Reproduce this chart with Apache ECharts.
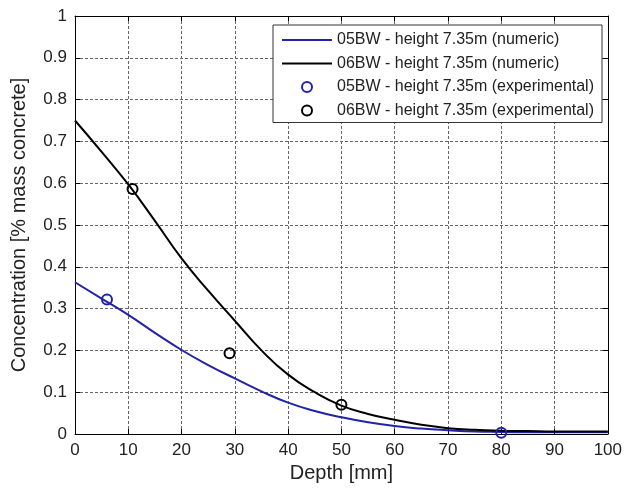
<!DOCTYPE html>
<html>
<head>
<meta charset="utf-8">
<script src="https://cdn.jsdelivr.net/npm/echarts@6/dist/echarts.min.js"></script>
<style>
html,body{margin:0;padding:0;background:#fff;}
#chart{width:625px;height:495px;}
</style>
</head>
<body>
<div id="chart"></div>
<script>
// Depth grid for numeric curves [mm]
var depth = [0,5,10,15,20,25,30,35,40,45,50,55,60,65,70,75,80,85,90,95,100];
// 05BW numeric (blue)
var bw05Numeric = [0.363,0.324,0.285,0.242,0.201,0.165,0.133,0.102,0.075,0.055,0.040,0.028,0.019,0.013,0.009,0.006,0.005,0.004,0.004,0.004,0.004];
// 06BW numeric (black)
var bw06Numeric = [0.750,0.675,0.597,0.510,0.420,0.343,0.271,0.200,0.142,0.100,0.068,0.048,0.034,0.022,0.014,0.010,0.008,0.007,0.006,0.006,0.006];
// Experimental points
var bw05ExpDepth = [6, 80];
var bw05ExpValue = [0.322, 0.003];
var bw06ExpDepth = [10.8, 29, 50];
var bw06ExpValue = [0.586, 0.193, 0.070];
// Axis ticks
var xTicks = [0,10,20,30,40,50,60,70,80,90,100];
var yTicks = [0,0.1,0.2,0.3,0.4,0.5,0.6,0.7,0.8,0.9,1];

var names = [
  '05BW - height 7.35m (numeric)',
  '06BW - height 7.35m (numeric)',
  '05BW - height 7.35m (experimental)',
  '06BW - height 7.35m (experimental)'
];
var BLUE = '#2222aa';
var BLACK = '#000000';
var FONT = 'Liberation Sans, Arial, sans-serif';

function pairs(xs, ys){ return xs.map(function(x,i){ return [x, ys[i]]; }); }

var chart = echarts.init(document.getElementById('chart'), null, {renderer:'canvas'});
var gridLine = {show:true, lineStyle:{color:'#666', type:[3,2], width:1}};
var option = {
  animation:false,
  backgroundColor:'#fff',
  grid:{left:75, right:17, top:16, bottom:61, containLabel:false},
  xAxis:[{
    type:'value', min:xTicks[0], max:xTicks[xTicks.length-1], interval:10,
    name:'Depth [mm]', nameLocation:'middle', nameGap:27,
    nameTextStyle:{fontFamily:FONT, fontSize:20, color:'#222'},
    axisLine:{show:true, lineStyle:{color:'#000', width:1}},
    axisTick:{show:true, inside:true, length:5, lineStyle:{color:'#000'}},
    axisLabel:{fontFamily:FONT, fontSize:17, color:'#222', margin:8},
    splitLine:gridLine
  },{
    type:'value', position:'top', min:0, max:100, interval:10,
    axisLine:{show:true, onZero:false, lineStyle:{color:'#000', width:1}},
    axisTick:{show:true, inside:true, length:5, lineStyle:{color:'#000'}},
    axisLabel:{show:false}, splitLine:{show:false}
  }],
  yAxis:[{
    type:'value', min:yTicks[0], max:yTicks[yTicks.length-1], interval:0.1,
    name:'Concentration [% mass concrete]', nameLocation:'middle', nameGap:46,
    nameTextStyle:{fontFamily:FONT, fontSize:20, color:'#222'},
    axisLine:{show:true, lineStyle:{color:'#000', width:1}},
    axisTick:{show:true, inside:true, length:5, lineStyle:{color:'#000'}},
    axisLabel:{fontFamily:FONT, fontSize:17, color:'#222', margin:8},
    splitLine:gridLine
  },{
    type:'value', position:'right', min:0, max:1, interval:0.1,
    axisLine:{show:true, onZero:false, lineStyle:{color:'#000', width:1}},
    axisTick:{show:true, inside:true, length:5, lineStyle:{color:'#000'}},
    axisLabel:{show:false}, splitLine:{show:false}
  }],
  legend:{
    orient:'vertical', left:273, top:25,
    padding:[7,8,4,9], itemGap:7.5, itemWidth:50, itemHeight:10, itemTextGap:5,
    backgroundColor:'#fff', borderColor:'#333', borderWidth:1, borderRadius:0,
    textStyle:{fontFamily:FONT, fontSize:16, color:'#222', lineHeight:16},
    data:[
      {name:names[0], icon:'path://M0,0 L50,0 L50,2 L0,2 Z'},
      {name:names[1], icon:'path://M0,0 L50,0 L50,2 L0,2 Z'},
      {name:names[2], icon:'circle', itemStyle:{color:'#fff', borderColor:BLUE, borderWidth:2, opacity:1}},
      {name:names[3], icon:'circle', itemStyle:{color:'#fff', borderColor:BLACK, borderWidth:2, opacity:1}}
    ]
  },
  series:[
    {name:names[0], type:'line', data:pairs(depth,bw05Numeric), smooth:true, showSymbol:false, symbol:'none',
     lineStyle:{color:BLUE, width:2}, itemStyle:{color:BLUE}, z:2},
    {name:names[1], type:'line', data:pairs(depth,bw06Numeric), smooth:true, showSymbol:false, symbol:'none',
     lineStyle:{color:BLACK, width:2}, itemStyle:{color:BLACK}, z:2},
    {name:names[2], type:'scatter', data:pairs(bw05ExpDepth,bw05ExpValue), symbol:'circle', symbolSize:10,
     itemStyle:{color:'rgba(255,255,255,0)', borderColor:BLUE, borderWidth:2, opacity:1}, z:3},
    {name:names[3], type:'scatter', data:pairs(bw06ExpDepth,bw06ExpValue), symbol:'circle', symbolSize:10,
     itemStyle:{color:'rgba(255,255,255,0)', borderColor:BLACK, borderWidth:2, opacity:1}, z:3}
  ]
};
chart.setOption(option);
</script>
</body>
</html>
